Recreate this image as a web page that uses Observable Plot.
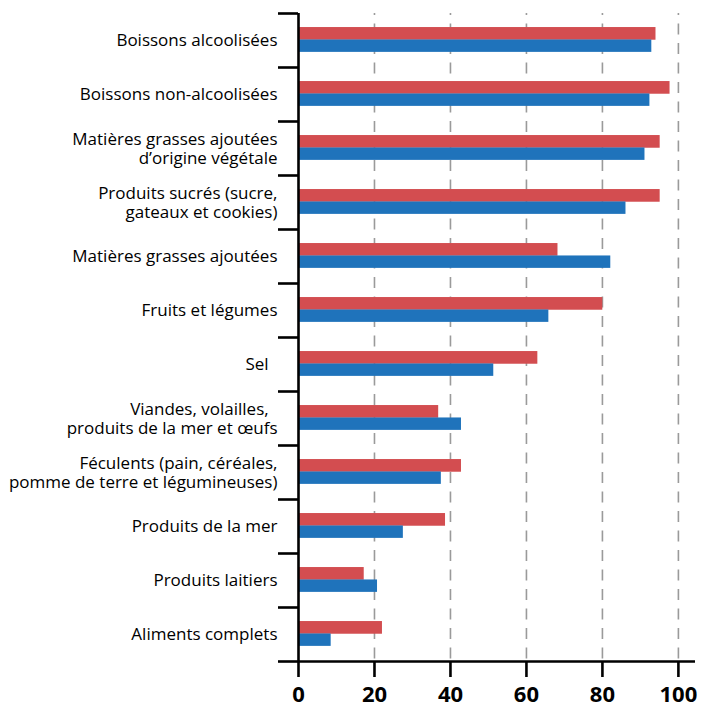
<!DOCTYPE html>
<html>
<head>
<meta charset="utf-8">
<script src="https://cdn.jsdelivr.net/npm/d3@7"></script>
<script src="https://cdn.jsdelivr.net/npm/@observablehq/plot@0.6"></script>
<style>
  html, body { margin: 0; padding: 0; background: #fff; }
</style>
</head>
<body>
<div id="chart"></div>
<script>
const categories = [
  "Boissons alcoolisées",
  "Boissons non-alcoolisées",
  "Matières grasses ajoutées\nd’origine végétale",
  "Produits sucrés (sucre,\ngateaux et cookies)",
  "Matières grasses ajoutées",
  "Fruits et légumes",
  "Sel\u00a0\u00a0",
  "Viandes, volailles,\u00a0\u00a0\nproduits de la mer et œufs",
  "Féculents (pain, céréales,\npomme de terre et légumineuses)",
  "Produits de la mer",
  "Produits laitiers",
  "Aliments complets"
];
const redValues  = [94.1, 97.8, 95.2, 95.2, 68.3, 80.1, 63.0, 36.9, 42.9, 38.7, 17.3, 22.1];
const blueValues = [93.0, 92.5, 91.2, 86.2, 82.2, 65.9, 51.4, 42.9, 37.6, 27.6, 20.8, 8.6];
const xTicks = [0, 20, 40, 60, 80, 100];
const gridTicks = [20, 40, 60, 80, 100];

const W = 701, H = 705, mTop = 13, mBottom = 44, mLeft = 298, mRight = 6;
const band = (H - mTop - mBottom) / categories.length;

const redData = categories.map((c, i) => ({category: c, value: redValues[i]}));
const blueData = categories.map((c, i) => ({category: c, value: blueValues[i]}));

const chart = Plot.plot({
  width: W,
  height: H,
  marginTop: mTop,
  marginBottom: mBottom,
  marginLeft: mLeft,
  marginRight: mRight,
  style: {fontFamily: "'Open Sans', sans-serif", color: "#000", background: "#fff", overflow: "visible"},
  x: {domain: [0, 104.5], label: null},
  y: {domain: categories, paddingInner: 0, paddingOuter: 0, label: null},
  marks: [
    Plot.ruleX(gridTicks, {stroke: "#9a9a9a", strokeWidth: 1.6, strokeDasharray: "11,8.5", strokeDashoffset: 9}),
    Plot.barX(redData, {y: "category", x: "value", fill: "#d34d50", insetTop: band * 0.26, insetBottom: band * 0.505}),
    Plot.barX(blueData, {y: "category", x: "value", fill: "#1f73bb", insetTop: band * 0.49, insetBottom: band * 0.28}),
    // y tick marks at band boundaries
    Plot.axisY({tickSize: 20, text: null, label: null, dy: -band / 2, stroke: "#000", strokeWidth: 2.6}),
    Plot.axisY({ticks: [categories[categories.length - 1]], tickSize: 20, text: null, label: null, dy: band / 2, stroke: "#000", strokeWidth: 2.6}),
    // category labels
    Plot.axisY({tickSize: 0, tickPadding: 21, fontSize: 17, lineHeight: 1.1, label: null}),
    // axis lines
    Plot.ruleY([categories[categories.length - 1]], {dy: band / 2, stroke: "#000", strokeWidth: 2.6}),
    Plot.ruleX([0], {stroke: "#000", strokeWidth: 2.6}),
    // x axis
    Plot.axisX({ticks: xTicks, tickSize: 16, tickPadding: 9, strokeWidth: 2.6, fontSize: 22, fontWeight: "bold", label: null})
  ]
});
document.getElementById("chart").appendChild(chart);
</script>
</body>
</html>
